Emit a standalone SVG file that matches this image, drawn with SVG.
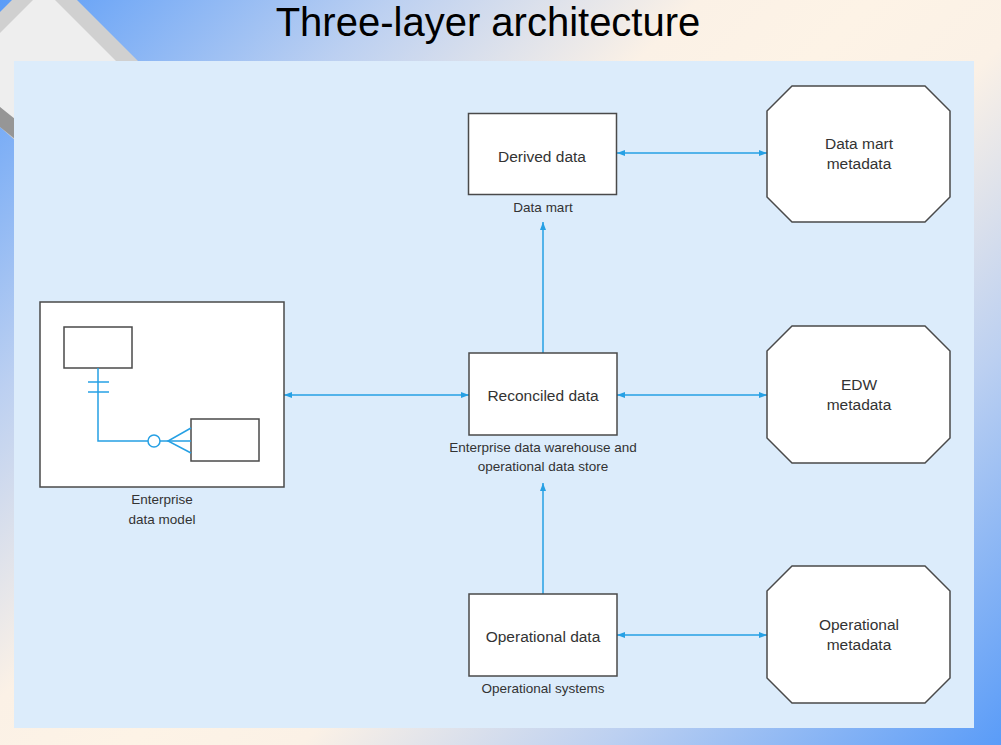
<svg xmlns="http://www.w3.org/2000/svg" width="1001" height="745" viewBox="0 0 1001 745">
<defs>
<linearGradient id="bg" gradientUnits="userSpaceOnUse" x1="0" y1="0" x2="436" y2="436" spreadMethod="reflect">
<stop offset="0" stop-color="#5a9cf8"/>
<stop offset="0.45" stop-color="#bcd0f1"/>
<stop offset="0.8" stop-color="#fbf1e6"/>
<stop offset="1" stop-color="#fdf3e6"/>
</linearGradient>
<marker id="ah" viewBox="0 0 8 6" refX="8" refY="3" markerWidth="8" markerHeight="6" markerUnits="userSpaceOnUse" orient="auto-start-reverse">
<path d="M0,0 L8,3 L0,6 Z" fill="#26a0e4"/>
</marker>
<style>
.box{fill:#ffffff;stroke:#4a4a4a;stroke-width:1.5}
.t{font-family:"Liberation Sans",Arial,sans-serif;fill:#333333;text-anchor:middle}
.big{font-size:15.5px}
.sm{font-size:13.5px}
.conn{stroke:#26a0e4;stroke-width:1.5;fill:none}
.er{stroke:#26a0e4;stroke-width:1.5;fill:none}
</style>
</defs>
<rect x="0" y="0" width="1001" height="745" fill="url(#bg)"/>
<g id="decoration">
<polygon points="44.5,-32.5 200,123 60,180 0,127 -60,72" fill="#d0d0d0"/>
<polygon points="44,-11 200,145 100,200 0,107 -20,53" fill="#eeeeee"/>
<polygon points="0,107 20,123 20,143 0,127" fill="#969696"/>
</g>
<rect x="14" y="61" width="960" height="667" fill="#dcecfb"/>
<text x="488" y="36" font-family="Liberation Sans, Arial, sans-serif" font-size="40" fill="#000000" text-anchor="middle">Three-layer architecture</text>

<g id="connectors">
<line class="conn" x1="617" y1="153" x2="767" y2="153" marker-start="url(#ah)" marker-end="url(#ah)"/>
<line class="conn" x1="284" y1="395" x2="469" y2="395" marker-start="url(#ah)" marker-end="url(#ah)"/>
<line class="conn" x1="617" y1="395" x2="767" y2="395" marker-start="url(#ah)" marker-end="url(#ah)"/>
<line class="conn" x1="617" y1="635" x2="767" y2="635" marker-start="url(#ah)" marker-end="url(#ah)"/>
<line class="conn" x1="543" y1="353" x2="543" y2="222" marker-end="url(#ah)"/>
<line class="conn" x1="543" y1="594" x2="543" y2="483" marker-end="url(#ah)"/>
</g>

<g id="derived">
<rect class="box" x="468.5" y="113.5" width="148" height="81"/>
<text class="t big" x="542" y="162">Derived data</text>
<text class="t sm" x="543" y="212">Data mart</text>
</g>
<g id="reconciled">
<rect class="box" x="469" y="353" width="148" height="82"/>
<text class="t big" x="543" y="401">Reconciled data</text>
<text class="t sm" x="543" y="452">Enterprise data warehouse and</text>
<text class="t sm" x="543" y="471">operational data store</text>
</g>
<g id="operational">
<rect class="box" x="469" y="594" width="148" height="82"/>
<text class="t big" x="543" y="642">Operational data</text>
<text class="t sm" x="543" y="693">Operational systems</text>
</g>
<g id="datamart-meta">
<polygon class="box" points="792,86 925,86 950,111 950,197 925,222 792,222 767,197 767,111"/>
<text class="t big" x="859" y="149">Data mart</text>
<text class="t big" x="859" y="169">metadata</text>
</g>
<g id="edw-meta">
<polygon class="box" points="792,326 925,326 950,351 950,438 925,463 792,463 767,438 767,351"/>
<text class="t big" x="859" y="390">EDW</text>
<text class="t big" x="859" y="410">metadata</text>
</g>
<g id="operational-meta">
<polygon class="box" points="792,566 925,566 950,591 950,678 925,703 792,703 767,678 767,591"/>
<text class="t big" x="859" y="630">Operational</text>
<text class="t big" x="859" y="650">metadata</text>
</g>
<g id="enterprise-model">
<rect class="box" x="40" y="302" width="244" height="185"/>
<rect class="box" x="64" y="327" width="68" height="41"/>
<rect class="box" x="191" y="419" width="68" height="42"/>
<path class="er" d="M98,368 V441 H191"/>
<line class="er" x1="88" y1="382" x2="109" y2="382"/>
<line class="er" x1="88" y1="392" x2="109" y2="392"/>
<circle cx="154" cy="441" r="6" fill="#ffffff" stroke="#26a0e4" stroke-width="1.5"/>
<path class="er" d="M191,428 L168,441 L191,453"/>
<text class="t sm" x="162" y="504">Enterprise</text>
<text class="t sm" x="162" y="524">data model</text>
</g>
</svg>
